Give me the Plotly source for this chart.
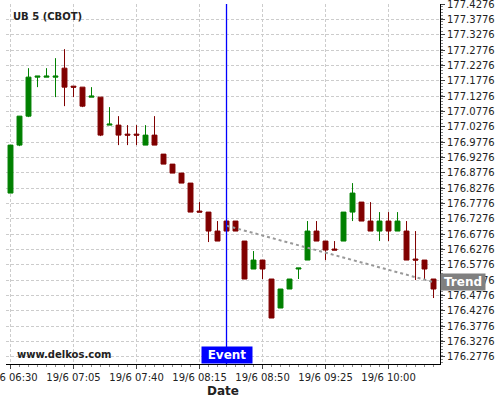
import plotly.graph_objects as go
import pandas as pd

# ---- data ----
start_time = "2017-06-19 06:30"
n_candles = 48
times = pd.date_range(start_time, periods=n_candles, freq="5min")

opens = [176.8114, 176.9679, 177.0624, 177.1896, 177.1896, 177.1896, 177.2189, 177.1602,
         177.1570, 177.1244, 177.1244, 177.0331, 177.0331, 177.0037, 177.0037, 176.9679,
         177.0005, 176.9385, 176.9059, 176.8766, 176.8440, 176.7527, 176.7494, 176.6875,
         176.7201, 176.7201, 176.6549, 176.5636, 176.5929, 176.5310, 176.4364, 176.4984,
         176.5636, 176.5929, 176.6875, 176.6549, 176.6288, 176.6549, 176.7494, 176.7820,
         176.7201, 176.6875, 176.7201, 176.6875, 176.6875, 176.5962, 176.5929, 176.5310]
highs = [176.9679, 177.0624, 177.2189, 177.1928, 177.2189, 177.2515, 177.2809, 177.1602,
         177.1570, 177.1570, 177.1244, 177.0918, 177.0624, 177.0331, 177.0331, 177.0331,
         177.0624, 176.9385, 176.9059, 176.8766, 176.8440, 176.7820, 176.7494, 176.7201,
         176.7201, 176.7201, 176.6549, 176.6223, 176.5929, 176.5310, 176.4984, 176.5310,
         176.5668, 176.7201, 176.7201, 176.6549, 176.6549, 176.7494, 176.8440, 176.7820,
         176.7820, 176.7494, 176.7494, 176.7494, 176.7201, 176.6875, 176.5929, 176.5310]
lows = [176.8114, 176.9646, 177.0592, 177.1570, 177.1896, 177.1244, 177.0950, 177.1244,
        177.0918, 177.1244, 176.9972, 177.0331, 176.9679, 176.9679, 176.9679, 176.9679,
        176.9679, 176.9059, 176.8766, 176.8440, 176.7494, 176.7494, 176.6516, 176.6549,
        176.6875, 176.6875, 176.5310, 176.5636, 176.5310, 176.4038, 176.4364, 176.4984,
        176.5310, 176.5929, 176.6549, 176.5929, 176.6255, 176.6549, 176.7201, 176.7201,
        176.6875, 176.6549, 176.6549, 176.6875, 176.5929, 176.5277, 176.5310, 176.4690]
closes = [176.9679, 177.0624, 177.1896, 177.1928, 177.1928, 177.1928, 177.1570, 177.1570,
          177.0950, 177.1276, 177.0005, 177.0363, 177.0005, 177.0005, 177.0005, 177.0005,
          176.9679, 176.9059, 176.8766, 176.8440, 176.7494, 176.7494, 176.6875, 176.6549,
          176.6875, 176.6875, 176.5310, 176.5929, 176.5636, 176.4038, 176.4984, 176.5310,
          176.5668, 176.6875, 176.6549, 176.6255, 176.6255, 176.7494, 176.8114, 176.7201,
          176.6875, 176.7201, 176.6875, 176.7201, 176.5929, 176.5929, 176.5636, 176.4984]

event_time = "2017-06-19 08:30"
trend_times = ["2017-06-19 08:30", "2017-06-19 10:25"]
trend_values = [176.705, 176.521]

title_text = "UB 5 (CBOT)"
watermark_text = "www.delkos.com"
x_title = "Date"
y_tick0 = 176.2776
y_dtick = 0.05
y_range = [176.2538, 177.4282]
x_range = ["2017-06-19 06:27:30", "2017-06-19 10:28:36"]

GREEN = "#008000"
RED = "#800000"
GRID = "#cccccc"
FONT = "DejaVu Sans"

fig = go.Figure()
fig.add_trace(go.Candlestick(
    x=times, open=opens, high=highs, low=lows, close=closes,
    increasing=dict(line=dict(color=GREEN, width=1), fillcolor=GREEN),
    decreasing=dict(line=dict(color=RED, width=1), fillcolor=RED),
    whiskerwidth=0, showlegend=False, hoverinfo="skip",
))
fig.add_trace(go.Scatter(
    x=trend_times, y=trend_values, mode="lines",
    line=dict(color="#999999", width=2, dash="dot"),
    showlegend=False, hoverinfo="skip",
))

fig.add_shape(type="line", x0=event_time, x1=event_time, y0=0, y1=1,
              xref="x", yref="paper", line=dict(color="#0000ff", width=1.3))

fig.add_annotation(x=event_time, xref="x", y=0, yref="paper",
                   xanchor="center", yanchor="bottom", text="<b>Event</b>",
                   showarrow=False, bgcolor="#0000ff", width=48, height=14,
                   borderpad=1, font=dict(family=FONT, size=12, color="white"))
fig.add_annotation(x=1, xref="paper", y=trend_values[-1], yref="y",
                   xanchor="left", yanchor="middle", text="<b>Trend</b>",
                   showarrow=False, bgcolor="#808080", width=42, height=14,
                   borderpad=1, font=dict(family=FONT, size=12, color="white"))
fig.add_annotation(x=0.012, xref="paper", y=0.985, yref="paper",
                   xanchor="left", yanchor="top", text="<b>" + title_text + "</b>",
                   showarrow=False, font=dict(family=FONT, size=10, color="#222222"))
fig.add_annotation(x=0.021, xref="paper", y=0.005, yref="paper",
                   xanchor="left", yanchor="bottom", text="<b>" + watermark_text + "</b>",
                   showarrow=False, font=dict(family=FONT, size=10, color="#222222"))

fig.update_layout(
    width=500, height=400,
    margin=dict(l=6, r=60, t=4, b=36),
    paper_bgcolor="white", plot_bgcolor="white",
    boxgap=0.22,
    font=dict(family=FONT, size=10, color="#222222"),
    xaxis=dict(
        type="date", range=x_range, rangeslider=dict(visible=False),
        tick0="2017-06-19 06:30", dtick=35 * 60 * 1000,
        tickformat="%-d/%-m %H:%M", ticklabeloverflow="allow",
        showgrid=True, gridcolor=GRID, griddash="3px,2px", gridwidth=1,
        showline=True, linecolor="black", linewidth=1,
        ticks="outside", ticklen=4, tickcolor="#444",
        minor=dict(dtick=5 * 60 * 1000, ticks="outside", ticklen=2, tickcolor="#888", showgrid=False),
        tickfont=dict(family=FONT, size=10, color="#222222"),
        title=dict(text="<b>" + x_title + "</b>", font=dict(family=FONT, size=12, color="#222222"), standoff=4),
        zeroline=False, automargin=False, fixedrange=True,
    ),
    yaxis=dict(
        side="right", range=y_range, tick0=y_tick0, dtick=y_dtick, tickformat=".4f",
        ticklabeloverflow="allow",
        showgrid=True, gridcolor=GRID, griddash="3px,2px", gridwidth=1,
        showline=True, linecolor="black", linewidth=1,
        ticks="outside", ticklen=4, tickcolor="#444",
        minor=dict(dtick=0.01, ticks="outside", ticklen=2, tickcolor="#888", showgrid=False),
        tickfont=dict(family=FONT, size=10, color="#222222"),
        zeroline=False, automargin=False, fixedrange=True,
    ),
)

fig.write_html("out.html", config={"displayModeBar": False},
               post_script="document.body.style.margin='0';document.body.style.padding='0';")
